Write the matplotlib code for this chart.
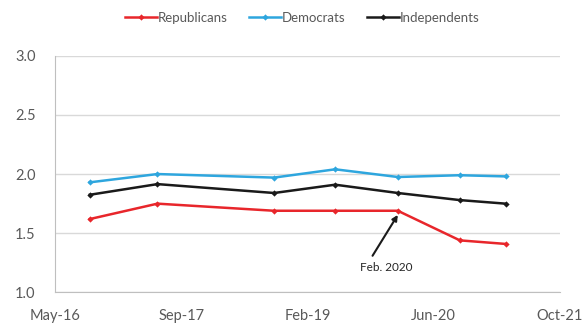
import matplotlib
matplotlib.use("Agg")
import matplotlib.pyplot as plt
import matplotlib.dates as mdates
import numpy as np
import datetime as dt

plt.rcParams['font.family'] = ['Lato', 'DejaVu Sans']

# Survey waves
survey_dates = ["2016-09-25", "2017-06-20", "2018-09-25", "2019-05-25",
                "2020-01-28", "2020-09-30", "2021-03-30"]
republicans = [1.62, 1.75, 1.69, 1.69, 1.69, 1.44, 1.41]
democrats = [1.93, 2.00, 1.97, 2.04, 1.975, 1.99, 1.98]
independents = [1.825, 1.915, 1.84, 1.91, 1.84, 1.78, 1.75]

series_names = ["Republicans", "Democrats", "Independents"]
series_colors = ["#e8262b", "#2ea6de", "#1a1a1a"]

x_start = dt.date(2016, 5, 10)
x_step_days = 500
n_ticks = 5

dates = [dt.date.fromisoformat(d) for d in survey_dates]

fig = plt.figure(figsize=(5.85, 3.29), dpi=100)
ax = fig.add_axes([0.094, 0.111, 0.863, 0.720])

for name, vals, col in zip(series_names, [republicans, democrats, independents], series_colors):
    ax.plot(dates, vals, color=col, lw=1.8, marker='D', ms=3.2,
            markeredgewidth=0, label=name, zorder=3)

tick_dates = [x_start + dt.timedelta(days=x_step_days * i) for i in range(n_ticks)]
ax.set_xlim(tick_dates[0], tick_dates[-1])
ax.set_xticks(tick_dates)
ax.xaxis.set_major_formatter(mdates.DateFormatter('%b-%y'))
ax.set_ylim(1.0, 3.0)
ax.set_yticks(np.arange(1.0, 3.01, 0.5))
ax.yaxis.set_major_formatter(matplotlib.ticker.FormatStrFormatter('%.1f'))

ax.grid(axis='y', color='#d9d9d9', lw=1.0, zorder=0)
for s in ['top', 'right']:
    ax.spines[s].set_visible(False)
ax.spines['left'].set_color('#bfbfbf')
ax.spines['bottom'].set_color('#bfbfbf')
ax.tick_params(length=0, colors='#595959', labelsize=10.5)
ax.tick_params(axis='x', pad=12)
ax.tick_params(axis='y', pad=14)

# Annotate the February 2020 wave
feb_idx = 4
ax.text(dates[feb_idx] - dt.timedelta(days=45), 1.215, "Feb. 2020",
        ha='center', va='center', fontsize=8.5, color='#262626')
ax.annotate("", xy=(dates[feb_idx], republicans[feb_idx] - 0.035),
            xytext=(dates[feb_idx] - dt.timedelta(days=100), 1.31),
            arrowprops=dict(arrowstyle='-|>', color='#1a1a1a', lw=1.5,
                            mutation_scale=8, shrinkA=0, shrinkB=0))

leg = ax.legend(loc='center', bbox_to_anchor=(0.49, 1.16), ncol=3, frameon=False,
                fontsize=9.5, handlelength=2.4, handletextpad=0.1,
                columnspacing=1.6, labelcolor='#595959')

fig.savefig("out.png", dpi=100)
